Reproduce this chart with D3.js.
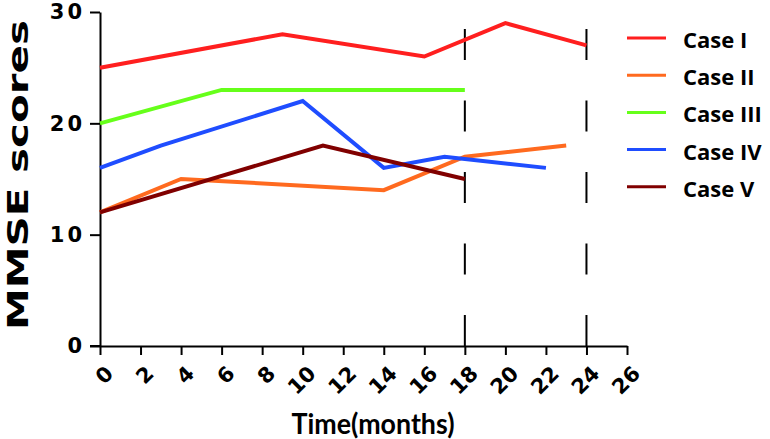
<!DOCTYPE html>
<html>
<head>
<meta charset="utf-8">
<script src="https://cdn.jsdelivr.net/npm/d3@7"></script>
<style>
  html, body { margin: 0; padding: 0; background: #fff; }
  svg { display: block; }
</style>
</head>
<body>
<svg id="chart" width="770" height="439"></svg>
<script>
// ---- Data ----
const seriesNames = ["Case I", "Case II", "Case III", "Case IV", "Case V"];
const seriesColors = ["#ff1f1f", "#ff6a1f", "#66ff1a", "#1f4dff", "#800000"];
const caseI   = [[0, 25], [9, 28], [16, 26], [20, 29], [24, 27]];
const caseII  = [[0, 12], [4, 15], [14, 14], [18, 17], [23, 18]];
const caseIII = [[0, 20], [6, 23], [18, 23]];
const caseIV  = [[0, 16], [3, 18], [10, 22], [14, 16], [17, 17], [22, 16]];
const caseV   = [[0, 12], [11, 18], [18, 15]];
const seriesData = [caseI, caseII, caseIII, caseIV, caseV];
const xTicks = [0, 2, 4, 6, 8, 10, 12, 14, 16, 18, 20, 22, 24, 26];
const yTicks = [0, 10, 20, 30];
const markerMonths = [18, 24];

// ---- Scales ----
const svg = d3.select("#chart");
const x = d3.scaleLinear().domain([0, 26]).range([100, 627]);
const y = d3.scaleLinear().domain([0, 30]).range([346, 12]);

// ---- Axes ----
const yAxis = svg.append("g").attr("transform", `translate(${x(0)},0)`)
  .call(d3.axisLeft(y).tickValues(yTicks).tickSize(10).tickPadding(8).tickSizeOuter(0));
yAxis.select(".domain").attr("stroke", "#000").attr("stroke-width", 2);
yAxis.selectAll(".tick line").attr("stroke", "#000").attr("stroke-width", 2);
yAxis.selectAll(".tick text")
  .attr("font-family", "'DejaVu Sans', sans-serif")
  .attr("font-weight", "bold")
  .attr("font-size", 21)
  .attr("letter-spacing", 3)
  .attr("fill", "#000")
  .attr("dx", 3);

const xAxis = svg.append("g").attr("transform", `translate(0,${y(0)})`)
  .call(d3.axisBottom(x).tickValues(xTicks).tickSize(9).tickSizeOuter(0));
xAxis.select(".domain").attr("stroke", "#000").attr("stroke-width", 2);
xAxis.selectAll(".tick line").attr("stroke", "#000").attr("stroke-width", 2);
xAxis.selectAll(".tick text")
  .attr("font-family", "'DejaVu Sans', sans-serif")
  .attr("font-weight", "bold")
  .attr("font-size", 21)
  .attr("fill", "#000")
  .attr("text-anchor", "end")
  .attr("dy", 0)
  .attr("y", 0)
  .attr("transform", "translate(14,29) rotate(-45)");

// extend x-axis line left to meet y tick
svg.append("line").attr("x1", 90).attr("x2", x(0)).attr("y1", y(0)).attr("y2", y(0))
  .attr("stroke", "#000").attr("stroke-width", 2);

// ---- Dashed marker lines ----
svg.selectAll(".marker").data(markerMonths).enter().append("line")
  .attr("x1", d => x(d)).attr("x2", d => x(d))
  .attr("y1", y(0)).attr("y2", y(30))
  .attr("stroke", "#000").attr("stroke-width", 2)
  .attr("stroke-dasharray", "31,40.5");

// ---- Lines ----
const line = d3.line().x(d => x(d[0])).y(d => y(d[1]));
svg.selectAll(".series").data(seriesData).enter().append("path")
  .attr("d", line)
  .attr("fill", "none")
  .attr("stroke", (d, i) => seriesColors[i])
  .attr("stroke-width", 4)
  .attr("stroke-linejoin", "miter");

// ---- Legend ----
const legend = svg.append("g");
const rows = legend.selectAll("g").data(seriesNames).enter().append("g")
  .attr("transform", (d, i) => `translate(0,${38 + i * 37.2})`);
rows.append("line").attr("x1", 627).attr("x2", 666).attr("y1", 0).attr("y2", 0)
  .attr("stroke", (d, i) => seriesColors[i]).attr("stroke-width", 3);
rows.append("text").attr("x", 683).attr("y", 10)
  .attr("font-family", "'Open Sans', sans-serif").attr("font-weight", "bold")
  .attr("font-size", 22).attr("fill", "#000")
  .text(d => d);

// ---- Axis titles ----
svg.append("text")
  .attr("x", 373).attr("y", 434)
  .attr("text-anchor", "middle")
  .attr("font-family", "Lato, 'Open Sans', sans-serif").attr("font-weight", "bold")
  .attr("font-size", 28).attr("fill", "#000")
  .attr("textLength", 163).attr("lengthAdjust", "spacingAndGlyphs")
  .text("Time(months)");

svg.append("text")
  .attr("transform", "translate(28,175) rotate(-90)")
  .attr("text-anchor", "middle")
  .attr("font-family", "'DejaVu Sans', sans-serif").attr("font-weight", "bold")
  .attr("font-size", 28).attr("fill", "#000")
  .attr("textLength", 310).attr("lengthAdjust", "spacingAndGlyphs")
  .text("MMSE scores");
</script>
</body>
</html>
